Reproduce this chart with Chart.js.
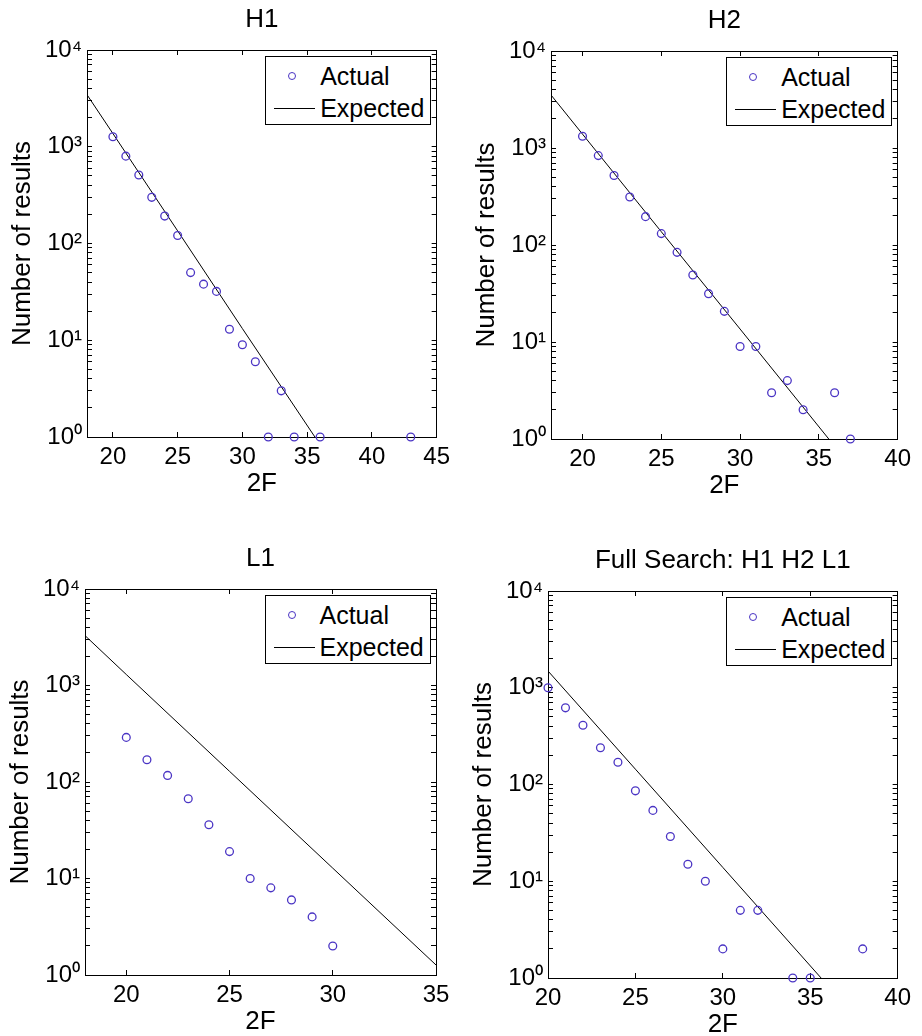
<!DOCTYPE html>
<html>
<head>
<meta charset="utf-8">
<title>Number of results vs 2F</title>
<script src="https://cdn.jsdelivr.net/npm/chart.js@4.4.1/dist/chart.umd.min.js"></script>
<style>
  html, body { margin: 0; padding: 0; background: #fff; overflow: hidden; }
  #page { position: relative; width: 922px; height: 1036px; }
  .panel { position: absolute; display: block; }
  .legend {
    position: absolute; box-sizing: border-box; width: 166px; height: 69px;
    border: 1px solid #000; background: #fff; color: #000;
    font-family: "Liberation Sans", Arial, Helvetica, sans-serif; font-size: 25px;
  }
  .legend .row { position: absolute; left: 0; right: 0; height: 30px; }
  .legend .txt { position: absolute; left: 54px; top: 0; line-height: 30px; white-space: nowrap; }
  .legend .dot { position: absolute; left: 22px; top: 11px; width: 8px; height: 8px;
                 box-sizing: border-box; border-radius: 50%; }
  .legend .seg { position: absolute; left: 8px; width: 41px; top: 15px; height: 0; border-top: 1px solid #000; }
</style>
</head>
<body>
<div id="page"></div>
<script>
// ---- text ----
const PANEL_TITLES = ['H1', 'H2', 'L1', 'Full Search: H1 H2 L1'];
const SERIES_NAMES = ['Actual', 'Expected'];
const X_TITLE = '2F';
const Y_TITLE = 'Number of results';
const Y_TICK_VALUES = [1, 10, 100, 1000, 10000];
const Y_TICK_LABELS = ['10\u2070', '10\u00B9', '10\u00B2', '10\u00B3', '10\u2074'];

// ---- H1 ----
const h1X        = [20, 21, 22, 23, 24, 25, 26, 27, 28, 29, 30, 31, 32, 33, 34, 36, 43];
const h1Actual   = [1270, 800, 510, 300, 192, 121, 50, 38, 32, 13, 9, 6, 1, 3, 1, 1, 1];
const h1ExpX     = [18, 20, 25, 30, 35.6];
const h1Expected = [3450, 1370, 135, 13.2, 1];
const h1Range    = [18, 45];
const h1XTicks   = [20, 25, 30, 35, 40, 45];

// ---- H2 ----
const h2X        = [20, 21, 22, 23, 24, 25, 26, 27, 28, 29, 30, 31, 32, 33, 34, 36, 37];
const h2Actual   = [1320, 835, 520, 312, 196, 131, 84, 49, 31.5, 20.7, 9, 9, 3, 4, 2, 3, 1];
const h2ExpX     = [18, 20, 25, 30, 35.63];
const h2Expected = [3520, 1390, 137, 13.6, 1];
const h2Range    = [18, 40];
const h2XTicks   = [20, 25, 30, 35, 40];

// ---- L1 ----
const l1X        = [20, 21, 22, 23, 24, 25, 26, 27, 28, 29, 30];
const l1Actual   = [290, 170, 117, 67, 36, 19, 10, 8, 6, 4, 2];
const l1ExpX     = [18, 20, 25, 30, 35];
const l1Expected = [3290, 1300, 129, 12.8, 1.27];
const l1Range    = [18, 35];
const l1XTicks   = [20, 25, 30, 35];

// ---- Full search ----
const fsX        = [20, 21, 22, 23, 24, 25, 26, 27, 28, 29, 30, 31, 32, 34, 35, 38];
const fsActual   = [1000, 620, 410, 240, 170, 86, 54, 29, 15, 10, 2, 5, 5, 1, 1, 2];
const fsExpX     = [20, 25, 30, 35.62];
const fsExpected = [1490, 144, 13.9, 1];
const fsRange    = [20, 40];
const fsXTicks   = [20, 25, 30, 35, 40];

// ---- page geometry: canvas frame [x, y, w, h] and plot box [left, top, right, bottom] ----
const FRAMES = [[0, 0, 461, 518], [461, 0, 461, 518], [0, 518, 461, 518], [461, 518, 461, 518]];
const PLOTS  = [[87, 50, 439, 437], [551, 51, 904, 439], [85, 589, 436, 975], [548, 591, 902, 978]];

const FONT = '"Liberation Sans", Arial, Helvetica, sans-serif';
const MARKER = '#4a34c4';
Chart.defaults.font.family = FONT;
Chart.defaults.color = '#000';

function logTickValues(min, max) {
  const out = [];
  for (let e = 0; Math.pow(10, e) <= max; e++) {
    for (let s = 1; s < 10; s++) {
      const v = s * Math.pow(10, e);
      if (v >= min && v <= max) out.push(v);
    }
  }
  return out;
}
const Y_ALL_TICKS = logTickValues(Y_TICK_VALUES[0], Y_TICK_VALUES[Y_TICK_VALUES.length - 1]);

function yLabel(v) {
  const i = Y_TICK_VALUES.indexOf(v);
  return i >= 0 ? Y_TICK_LABELS[i] : '';
}

function frameAxis() {
  return {
    border: { display: true, color: '#000', width: 1 },
    grid: { drawOnChartArea: false, drawTicks: true, tickLength: -5, tickColor: '#000', tickWidth: 1 }
  };
}

function makePanel(idx, xs, ys, ex, ey, range, xTicks) {
  const fr = FRAMES[idx], pl = PLOTS[idx];
  const cv = document.createElement('canvas');
  cv.className = 'panel';
  cv.width = fr[2]; cv.height = fr[3];
  cv.style.left = fr[0] + 'px'; cv.style.top = fr[1] + 'px';
  cv.style.width = fr[2] + 'px'; cv.style.height = fr[3] + 'px';
  document.getElementById('page').appendChild(cv);

  const yWidth = pl[0] - fr[0];
  const yRightWidth = fr[0] + fr[2] - pl[2];
  const topSpace = pl[1] - fr[1];
  const xHeight = fr[1] + fr[3] - pl[3];
  const titleLH = 26 * 1.2;
  const titleTop = topSpace - 30 - titleLH / 2;
  const titleBottom = topSpace - titleTop - titleLH;
  const xTitleBottom = xHeight - 47 - 13;
  const yTitleTop = yWidth - 64 - titleLH / 2;

  const setXTicks = s => { s.ticks = xTicks.map(v => ({ value: v })); };
  const setYTicks = s => { s.ticks = Y_ALL_TICKS.map(v => ({ value: v, major: Y_TICK_VALUES.includes(v) })); };

  const chart = new Chart(cv.getContext('2d'), {
    type: 'scatter',
    data: {
      datasets: [
        {
          label: SERIES_NAMES[0],
          data: xs.map((x, i) => ({ x: x, y: ys[i] })),
          showLine: false,
          clip: false,
          pointStyle: 'circle',
          pointRadius: 3.9,
          pointHoverRadius: 3.9,
          pointBorderWidth: 1.3,
          borderColor: MARKER,
          backgroundColor: 'rgba(0,0,0,0)'
        },
        {
          label: SERIES_NAMES[1],
          data: ex.map((x, i) => ({ x: x, y: ey[i] })),
          showLine: true,
          pointRadius: 0,
          pointHoverRadius: 0,
          borderColor: '#000',
          borderWidth: 1,
          fill: false,
          tension: 0
        }
      ]
    },
    options: {
      responsive: false,
      animation: false,
      devicePixelRatio: 1,
      events: [],
      layout: { padding: 0 },
      plugins: {
        legend: { display: false },
        tooltip: { enabled: false },
        title: {
          display: true, text: PANEL_TITLES[idx], color: '#000', fullSize: false,
          font: { size: 26, weight: 'normal', lineHeight: 1.2 },
          padding: { top: titleTop, bottom: titleBottom }
        }
      },
      scales: {
        x: Object.assign(frameAxis(), {
          type: 'linear', position: 'bottom', min: range[0], max: range[1],
          ticks: { font: { size: 24 }, color: '#000', padding: 11, autoSkip: false, maxRotation: 0, includeBounds: false },
          afterBuildTicks: setXTicks,
          title: { display: true, text: X_TITLE, color: '#000', font: { size: 26, lineHeight: 1 },
                   padding: { top: 0, bottom: xTitleBottom } },
          afterFit: s => { s.height = xHeight; }
        }),
        xTop: Object.assign(frameAxis(), {
          type: 'linear', position: 'top', min: range[0], max: range[1],
          ticks: { display: false, includeBounds: false },
          afterBuildTicks: setXTicks,
          afterFit: s => { s.height = 0; }
        }),
        y: Object.assign(frameAxis(), {
          type: 'logarithmic', position: 'left', min: Y_TICK_VALUES[0], max: Y_TICK_VALUES[Y_TICK_VALUES.length - 1],
          ticks: { font: { size: 24 }, color: '#000', padding: 10, autoSkip: false, callback: v => yLabel(v) },
          afterBuildTicks: setYTicks,
          title: { display: true, text: Y_TITLE, color: '#000', font: { size: 26, lineHeight: 1.2 },
                   padding: { top: yTitleTop, bottom: 0 } },
          afterFit: s => { s.width = yWidth; }
        }),
        yRight: Object.assign(frameAxis(), {
          type: 'logarithmic', position: 'right', min: Y_TICK_VALUES[0], max: Y_TICK_VALUES[Y_TICK_VALUES.length - 1],
          ticks: { display: false },
          afterBuildTicks: setYTicks,
          afterFit: s => { s.width = yRightWidth; }
        })
      }
    }
  });

  // legend box in the upper-right corner of the plot area
  const a = chart.chartArea;
  const box = document.createElement('div');
  box.className = 'legend';
  box.style.left = (fr[0] + a.right - 5.5 - 166) + 'px';
  box.style.top = (fr[1] + a.top + 6) + 'px';
  chart.data.datasets.forEach((ds, i) => {
    const row = document.createElement('div');
    row.className = 'row';
    row.style.top = (i === 0 ? 4 : 36) + 'px';
    const mark = document.createElement('span');
    if (ds.showLine) {
      mark.className = 'seg';
    } else {
      mark.className = 'dot';
      mark.style.border = '1.3px solid ' + ds.borderColor;
    }
    const txt = document.createElement('span');
    txt.className = 'txt';
    txt.textContent = ds.label;
    row.appendChild(mark);
    row.appendChild(txt);
    box.appendChild(row);
  });
  document.getElementById('page').appendChild(box);
  return chart;
}

makePanel(0, h1X, h1Actual, h1ExpX, h1Expected, h1Range, h1XTicks);
makePanel(1, h2X, h2Actual, h2ExpX, h2Expected, h2Range, h2XTicks);
makePanel(2, l1X, l1Actual, l1ExpX, l1Expected, l1Range, l1XTicks);
makePanel(3, fsX, fsActual, fsExpX, fsExpected, fsRange, fsXTicks);
</script>
</body>
</html>
